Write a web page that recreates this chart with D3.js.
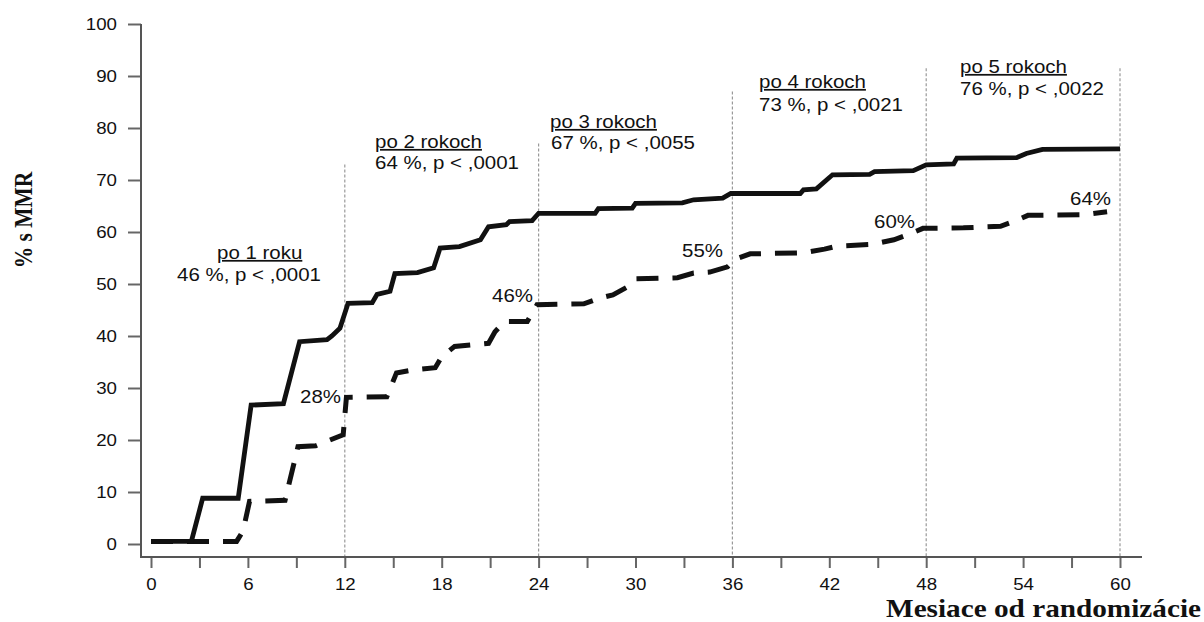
<!DOCTYPE html>
<html>
<head>
<meta charset="utf-8">
<script src="https://cdn.jsdelivr.net/npm/d3@7"></script>
<style>
  body { margin: 0; background: #fff; }
  text { font-family: "Liberation Sans", Arial, sans-serif; fill: #111; }
</style>
</head>
<body>
<div id="chart"></div>
<script>
// Chart values (months, % s MMR)
var imatinibMonths = [0, 2.5, 3.2, 5.4, 6.2, 8.2, 9.2, 10.9, 11.2, 11.7, 12.2, 13.7, 14.0, 14.8, 15.1, 16.5, 17.5, 17.9, 19.1, 20.4, 20.9, 22, 22.2, 23.6, 24, 27.5, 27.7, 29.8, 30, 32.9, 33.6, 35.4, 35.9, 40.2, 40.4, 41.2, 42.2, 44.5, 44.8, 47.2, 48, 49.7, 49.9, 53.6, 54.2, 55.2, 60];
var imatinibPct = [0.5, 0.5, 8.8, 8.8, 26.7, 27, 38.9, 39.3, 40, 41.5, 46.3, 46.4, 48, 48.6, 52, 52.2, 53.1, 56.9, 57.2, 58.5, 61, 61.4, 62, 62.2, 63.6, 63.6, 64.5, 64.6, 65.5, 65.6, 66.2, 66.5, 67.4, 67.4, 68.1, 68.3, 71, 71.1, 71.6, 71.8, 72.9, 73.1, 74.2, 74.3, 75.1, 75.9, 76];

var compareMonths = [0, 5.3, 5.7, 6.1, 8.3, 9.1, 10.2, 11.9, 12.1, 14.6, 15.2, 16.3, 17.6, 18, 18.8, 20.9, 21.3, 21.9, 23.3, 23.9, 26.8, 27.8, 28.6, 29.6, 30, 32.6, 33.6, 34.6, 35.7, 36.2, 37.1, 40.4, 41.7, 42.5, 44.6, 46, 46.8, 47.8, 50.3, 52.6, 53.4, 54.3, 57.7, 59.2];
var comparePct = [0.5, 0.5, 2.5, 8.2, 8.4, 18.7, 18.9, 21, 28.2, 28.3, 32.9, 33.5, 33.9, 36, 38, 38.6, 40.8, 42.8, 42.8, 46, 46.2, 47.3, 47.9, 49.6, 51, 51.2, 52.1, 52.3, 53.3, 54.8, 55.8, 56, 56.7, 57.3, 57.6, 58.5, 59.4, 60.7, 60.8, 61.1, 62, 63.2, 63.3, 63.9];

// yearly reference lines
var refMonths = [12, 24, 36, 48, 60];
var refTops = [73, 77, 87, 91.5, 91.5];

var yearTitles = ["po 1 roku", "po 2 rokoch", "po 3 rokoch", "po 4 rokoch", "po 5 rokoch"];
var yearStats = ["46 %, p < ,0001", "64 %, p < ,0001", "67 %, p < ,0055", "73 %, p < ,0021", "76 %, p < ,0022"];
var compareLabels = ["28%", "46%", "55%", "60%", "64%"];

var xTicks = d3.range(0, 61, 3);
var yTicks = d3.range(0, 101, 10);

// Set up the svg params
var svgWidth = 1204;
var svgHeight = 622;
var SX = 1.17; // the source picture is stretched horizontally

var svg = d3.select("#chart").append("svg")
    .attr("width", svgWidth)
    .attr("height", svgHeight);

var xScale = d3.scaleLinear().domain([0, 60]).range([151, 1120]);
var yScale = d3.scaleLinear().domain([0, 100]).range([544, 24]);

var axisX = 141;   // y axis line position
var axisY = 557;   // x axis line position

// dotted yearly lines
svg.append("g").selectAll("line")
    .data(refMonths)
    .enter()
    .append("line")
    .attr("x1", d => xScale(d))
    .attr("x2", d => xScale(d))
    .attr("y1", (d, i) => yScale(refTops[i]))
    .attr("y2", axisY)
    .attr("stroke", "#999")
    .attr("stroke-width", 1.2)
    .attr("stroke-dasharray", "3,2");

// axes
var leftAxis = d3.axisLeft(yScale).tickValues(yTicks).tickSize(13).tickPadding(11).tickSizeOuter(0);
var bottomAxis = d3.axisBottom(xScale).tickValues(xTicks).tickSize(11).tickPadding(10).tickSizeOuter(0)
    .tickFormat(d => d % 6 === 0 ? d : "");

var gy = svg.append("g")
    .attr("transform", `translate(${axisX}, 0)`)
    .call(leftAxis);
var gx = svg.append("g")
    .attr("transform", `translate(0, ${axisY})`)
    .call(bottomAxis);

[gx, gy].forEach(g => {
    g.select(".domain").remove();
    g.selectAll("line").attr("stroke", "#666").attr("stroke-width", 2);
    g.selectAll("text")
        .attr("font-family", "'Liberation Sans', Arial, sans-serif")
        .attr("font-size", 17)
        .attr("fill", "#222")
        .attr("transform", "scale(1.1,1)");
});
gy.selectAll("text").attr("x", -24 / 1.1);

svg.append("line")
    .attr("x1", axisX).attr("x2", axisX)
    .attr("y1", yScale(100)).attr("y2", axisY + 1)
    .attr("stroke", "#555").attr("stroke-width", 2);
svg.append("line")
    .attr("x1", axisX - 1).attr("x2", 1142)
    .attr("y1", axisY).attr("y2", axisY)
    .attr("stroke", "#555").attr("stroke-width", 2);

// curves
var line = d3.line()
    .x(d => xScale(d[0]))
    .y(d => yScale(d[1]));

svg.append("path")
    .datum(compareMonths.map((m, i) => [m, comparePct[i]]))
    .attr("d", line)
    .attr("fill", "none")
    .attr("stroke", "#111")
    .attr("stroke-width", 5)
    .attr("stroke-dasharray", "22,14");

svg.append("path")
    .datum(imatinibMonths.map((m, i) => [m, imatinibPct[i]]))
    .attr("d", line)
    .attr("fill", "none")
    .attr("stroke", "#111")
    .attr("stroke-width", 4.8);

// text helper: stretched horizontally like the source
function addText(x, y, str, size) {
    return svg.append("text")
        .attr("transform", `translate(${x}, ${y}) scale(${SX},1)`)
        .attr("font-size", size)
        .text(str);
}

// yearly annotations (left edge / baseline in px)
var titlePos = [[217, 259], [375, 148], [550, 128], [759, 88], [960, 73]];
var statPos = [[177, 281], [375, 169], [551, 149], [759, 111], [960, 95]];

yearTitles.forEach((t, i) => {
    addText(titlePos[i][0], titlePos[i][1], t, 17.5)
        .style("text-decoration", "underline");
    addText(statPos[i][0], statPos[i][1], yearStats[i], 17.5);
});

var pctPos = [[300, 403], [492, 302], [682, 257], [874, 228], [1070, 205]];
compareLabels.forEach((t, i) => {
    addText(pctPos[i][0], pctPos[i][1], t, 17.5);
});

// axis titles
svg.append("text")
    .attr("transform", `translate(32, 220) scale(${SX},1) rotate(-90)`)
    .attr("text-anchor", "middle")
    .style("font-family", "'Liberation Serif', 'Times New Roman', serif")
    .attr("font-weight", "bold")
    .attr("font-size", 21.5)
    .text("% s MMR");

svg.append("text")
    .attr("transform", `translate(1201, 617) scale(${SX},1)`)
    .attr("text-anchor", "end")
    .style("font-family", "'Liberation Serif', 'Times New Roman', serif")
    .attr("font-weight", "bold")
    .attr("font-size", 25)
    .text("Mesiace od randomizácie");
</script>
</body>
</html>
